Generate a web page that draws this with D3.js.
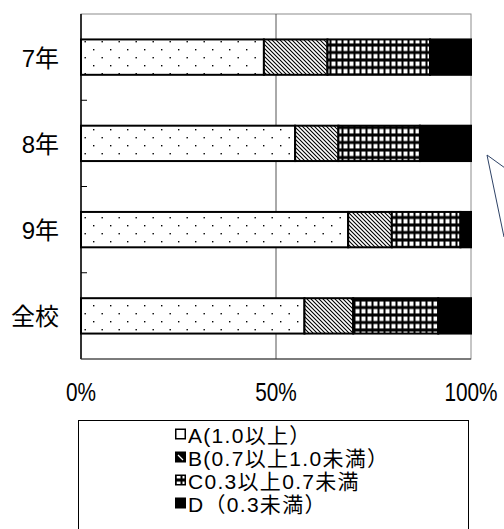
<!DOCTYPE html>
<html>
<head>
<meta charset="utf-8">
<script src="https://cdn.jsdelivr.net/npm/d3@7"></script>
<style>
  body { margin: 0; background: #fff; }
  svg { display: block; font-family: "Liberation Sans", "Noto Sans CJK JP", sans-serif; }
</style>
</head>
<body>
<svg id="chart" width="504" height="529"></svg>
<script>
// categories, top to bottom
const grades = ["7年", "8年", "9年", "全校"];
// share of each vision class (%)
const seriesA = [46.9, 54.9, 68.5, 57.3];
const seriesB = [16.3, 11.1, 11.2, 12.5];
const seriesC = [26.3, 20.9, 17.6, 21.8];
const seriesD = [10.5, 13.1, 2.7, 8.4];
const seriesKeys = ["A", "B", "C", "D"];
const legendLabels = ["A(1.0以上）", "B(0.7以上1.0未満）", "C0.3以上0.7未満", "D（0.3未満）"];
const tickValues = [0, 50, 100];

const svg = d3.select("#chart");
const plot = { left: 81, right: 471, top: 14, bottom: 359 };

// patterns
const defs = svg.append("defs");
let p = defs.append("pattern").attr("id", "patA").attr("patternUnits", "userSpaceOnUse")
  .attr("width", 17).attr("height", 16).attr("x", plot.left).attr("y", 0);
p.append("rect").attr("width", 17).attr("height", 16).attr("fill", "#fff");
p.append("rect").attr("x", 12).attr("y", 1).attr("width", 1.4).attr("height", 1.4).attr("fill", "#000");
p.append("rect").attr("x", 3.5).attr("y", 9).attr("width", 1.4).attr("height", 1.4).attr("fill", "#000");

p = defs.append("pattern").attr("id", "patB").attr("patternUnits", "userSpaceOnUse")
  .attr("width", 4).attr("height", 4);
p.append("rect").attr("width", 4).attr("height", 4).attr("fill", "#fff");
p.append("path").attr("d", "M-1,-1L5,5M-1,3L1,5M3,-1L5,1").attr("stroke", "#000").attr("stroke-width", 1.1);

p = defs.append("pattern").attr("id", "patC").attr("patternUnits", "userSpaceOnUse")
  .attr("width", 6).attr("height", 7.5);
p.append("rect").attr("width", 6).attr("height", 7.5).attr("fill", "#000");
p.append("rect").attr("x", 1.5).attr("y", 1.5).attr("width", 4).attr("height", 4.5).attr("fill", "#fff");

const fills = { A: "url(#patA)", B: "url(#patB)", C: "url(#patC)", D: "#000" };

const x = d3.scaleLinear().domain([0, 100]).range([plot.left, plot.right]);
const y = d3.scaleBand().domain(grades).range([plot.top, plot.bottom]).paddingInner(0.59).paddingOuter(0.295);
const yBounds = d3.scaleBand().domain(grades).range([plot.top, plot.bottom]);

// frame
svg.append("rect").attr("x", plot.left).attr("y", plot.top)
  .attr("width", plot.right - plot.left).attr("height", plot.bottom - plot.top)
  .attr("fill", "#fff").attr("stroke", "#8c8c8c").attr("stroke-width", 1);
svg.append("line").attr("x1", x(50)).attr("x2", x(50)).attr("y1", plot.top).attr("y2", plot.bottom)
  .attr("stroke", "#555").attr("stroke-width", 1);
svg.append("line").attr("x1", plot.left).attr("x2", plot.left).attr("y1", plot.top).attr("y2", plot.bottom)
  .attr("stroke", "#000").attr("stroke-width", 1.5);
svg.append("line").attr("x1", plot.left).attr("x2", plot.right).attr("y1", plot.bottom).attr("y2", plot.bottom)
  .attr("stroke", "#333").attr("stroke-width", 1.2);

// inner category ticks
svg.append("g").selectAll("line").data(grades.slice(1)).join("line")
  .attr("x1", plot.left).attr("x2", plot.left + 6)
  .attr("y1", d => yBounds(d)).attr("y2", d => yBounds(d))
  .attr("stroke", "#000").attr("stroke-width", 1);

// stacked bars
const rows = grades.map((g, i) => ({ grade: g, A: seriesA[i], B: seriesB[i], C: seriesC[i], D: seriesD[i] }));
const stacked = d3.stack().keys(seriesKeys)(rows);
svg.append("g").selectAll("g").data(stacked).join("g")
  .attr("fill", d => fills[d.key])
  .selectAll("rect").data(d => d).join("rect")
  .attr("x", d => x(d[0]))
  .attr("y", d => y(d.data.grade))
  .attr("width", d => x(d[1]) - x(d[0]))
  .attr("height", y.bandwidth())
  .attr("stroke", "#000").attr("stroke-width", 2);

// category labels
svg.append("g").selectAll("text").data(grades).join("text")
  .attr("x", 59).attr("y", d => y(d) + y.bandwidth() / 2 + 1)
  .attr("text-anchor", "end").attr("dominant-baseline", "central")
  .attr("font-size", 24).attr("fill", "#000")
  .text(d => d);

// x tick labels (narrow, tall digits)
svg.append("g").selectAll("text").data(tickValues).join("text")
  .attr("transform", d => `translate(${x(d)},392) scale(0.8,1)`)
  .attr("text-anchor", "middle").attr("dominant-baseline", "central")
  .attr("font-size", 26).attr("fill", "#000")
  .text(d => d + "%");

// callout line
svg.append("path").attr("d", "M505,168L487,155L504,237")
  .attr("fill", "none").attr("stroke", "#2e4266").attr("stroke-width", 1);

// legend
svg.append("rect").attr("x", 78.5).attr("y", 420.5).attr("width", 390).attr("height", 120)
  .attr("fill", "#fff").attr("stroke", "#000").attr("stroke-width", 1);
const leg = svg.append("g").selectAll("g").data(seriesKeys).join("g")
  .attr("transform", (d, i) => `translate(175,${434 + i * 23})`);
leg.append("rect").attr("x", 0.75).attr("y", -4.75).attr("width", 9.5).attr("height", 9.5)
  .attr("fill", d => d === "A" ? "#fff" : d === "C" ? "url(#patC)" : "#000")
  .attr("stroke", "#000").attr("stroke-width", 1.5);
leg.filter(d => d === "B").append("path").attr("d", "M3,-2L8,3").attr("stroke", "#fff").attr("stroke-width", 1.2);
leg.append("text").attr("x", 13).attr("y", 1)
  .attr("dominant-baseline", "central").attr("font-size", 21).attr("letter-spacing", 1.3).attr("fill", "#000")
  .text((d, i) => legendLabels[i]);
</script>
</body>
</html>
